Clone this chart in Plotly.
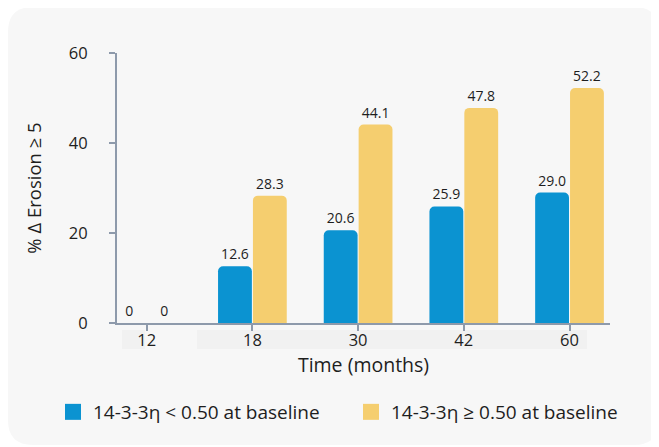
import plotly.graph_objects as go

months = ["12", "18", "30", "42", "60"]
low_values = [0, 12.6, 20.6, 25.9, 29.0]
high_values = [0, 28.3, 44.1, 47.8, 52.2]
low_labels = ["0", "12.6", "20.6", "25.9", "29.0"]
high_labels = ["0", "28.3", "44.1", "47.8", "52.2"]
series_names = ["14-3-3η < 0.50 at baseline", "14-3-3η ≥ 0.50 at baseline"]
y_ticks = [0, 20, 40, 60]

BLUE = "#0b93d1"
YELLOW = "#f5ce6f"
AXIS = "#8e9aab"
TEXT = "#1e1e1e"
FONT = "Open Sans"

OFF = 8  # page body margin
W, H = 659 - OFF, 447 - OFF
# plot area in screenshot pixels: x 117..610, y 53..323
L = 117 - OFF
R = W - (610 - OFF)
T = 53 - OFF
B = H - (323 - OFF)
pw, ph = W - L - R, H - T - B

def px(x):
    return (x - OFF - L) / pw

def py(y):
    return (H - B - (y - OFF)) / ph

fig = go.Figure()
legend_ids = ["legend", "legend2"]
for vals, labels, name, col, lg in [
    (low_values, low_labels, series_names[0], BLUE, legend_ids[0]),
    (high_values, high_labels, series_names[1], YELLOW, legend_ids[1]),
]:
    fig.add_trace(go.Bar(
        x=months, y=vals, name=name, marker=dict(color=col, line=dict(width=0)),
        text=labels, textposition="outside", cliponaxis=False,
        textfont=dict(size=14, color=TEXT, family=FONT),
        showlegend=False,
    ))
    fig.add_trace(go.Scatter(
        x=[None], y=[None], mode="markers", name=name,
        marker=dict(symbol="square", size=16, color=col),
        showlegend=True, legend=lg,
    ))

# rounded panel background
x0, x1, y0, y1, r = px(8), px(659), py(7), py(445), 25
rx, ry = r / pw, r / ph
path = (f"M {x0+rx},{y0} L {x1-rx},{y0} Q {x1},{y0} {x1},{y0-ry} "
        f"L {x1},{y1+ry} Q {x1},{y1} {x1-rx},{y1} L {x0+rx},{y1} "
        f"Q {x0},{y1} {x0},{y1+ry} L {x0},{y0-ry} Q {x0},{y0} {x0+rx},{y0} Z")
shapes = [dict(type="path", xref="paper", yref="paper", path=path,
               fillcolor="#f7f7f7", line=dict(width=0), layer="below")]
for a, b in [(122, 145), (197, 587)]:
    shapes.append(dict(type="rect", xref="paper", yref="paper",
                       x0=px(a), x1=px(b), y0=py(330), y1=py(349),
                       fillcolor="#f1f1f1", line=dict(width=0), layer="below"))

legend_style = dict(
    orientation="h", yanchor="middle", y=py(412), xanchor="left",
    font=dict(size=19, color=TEXT), bgcolor="rgba(0,0,0,0)",
    itemwidth=30,
)

fig.update_layout(
    width=W, height=H,
    margin=dict(l=L, r=R, t=T, b=B, pad=0, autoexpand=False),
    paper_bgcolor="white", plot_bgcolor="rgba(0,0,0,0)",
    font=dict(family=FONT, color=TEXT, size=15),
    barmode="group", bargap=0.34, bargroupgap=0.03, barcornerradius=5,
    shapes=shapes,
    xaxis=dict(
        type="category", range=[-0.281, 4.383],
        showline=True, linecolor=AXIS, linewidth=2,
        ticks="outside", tickcolor=AXIS, ticklen=6, tickwidth=2,
        tickfont=dict(size=16.5, color=TEXT), ticklabelstandoff=-5,
        showgrid=False, zeroline=False,
        title=dict(text="Time (months)", font=dict(size=19.5, color=TEXT), standoff=0),
    ),
    yaxis=dict(
        range=[0, 60], tickvals=y_ticks,
        showline=True, linecolor=AXIS, linewidth=2,
        ticks="outside", tickcolor=AXIS, ticklen=6, tickwidth=2,
        tickfont=dict(size=16.5, color=TEXT), ticklabelstandoff=18,
        showgrid=False, zeroline=False,
        title=dict(text="% Δ Erosion ≥ 5", font=dict(size=18.5, color=TEXT), standoff=22),
    ),
    legend=dict(legend_style, x=px(53)),
    legend2=dict(legend_style, x=px(351)),
)

fig.write_html("out.html")
